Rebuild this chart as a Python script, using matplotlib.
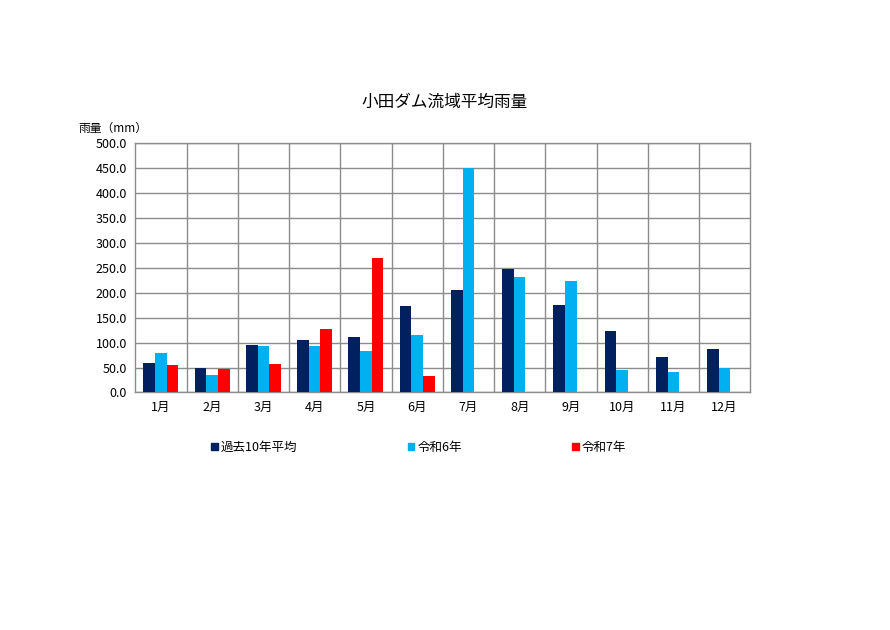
import matplotlib.pyplot as plt
import numpy as np
from matplotlib.patches import Patch

plt.rcParams['font.family'] = ['Noto Sans CJK JP', 'DejaVu Sans']

months = ['1月', '2月', '3月', '4月', '5月', '6月', '7月', '8月', '9月', '10月', '11月', '12月']
avg10 = [60.0, 49.4, 96.1, 105.5, 111.5, 172.9, 206.3, 247.0, 174.9, 123.5, 71.4, 86.8]
r6 = [79.4, 35.4, 92.8, 93.5, 83.4, 116.2, 450.6, 231.6, 224.3, 45.4, 42.0, 50.0]
r7 = [55.4, 47.4, 58.0, 127.5, 269.7, 33.4, np.nan, np.nan, np.nan, np.nan, np.nan, np.nan]
series_names = ['過去10年平均', '令和6年', '令和7年']
yticks = np.arange(0, 501, 50)

navy = '#002060'
cyan = '#00B0F0'
red = '#FF0000'
grid_c = '#8c8c8c'

fig = plt.figure(figsize=(8.9, 6.3), dpi=100)
ax = fig.add_axes([0.152, 0.377, 0.691, 0.396])

x = np.arange(len(months))
w = 0.228
ax.bar(x - w, avg10, w, color=navy, zorder=3)
ax.bar(x, r6, w, color=cyan, zorder=3)
ax.bar(x + w, r7, w, color=red, zorder=3)

ax.set_xlim(-0.5, len(months) - 0.5)
ax.set_ylim(0, 500)
ax.set_yticks(yticks)
ax.set_yticklabels([f'{v:.1f}' for v in yticks], fontsize=9)
ax.set_xticks(x)
ax.set_xticklabels(months, fontsize=9)
ax.tick_params(length=0, pad=6)

# grid lines: horizontal every 50, vertical between months
for v in yticks:
    ax.axhline(v, color=grid_c, lw=1.0, zorder=1)
for b in np.arange(0.5, len(months) - 0.5, 1):
    ax.axvline(b, color=grid_c, lw=1.0, zorder=1)
for s in ax.spines.values():
    s.set_color(grid_c)
    s.set_linewidth(1.0)

fig.text(0.5, 0.838, '小田ダム流域平均雨量', ha='center', va='center', fontsize=12)
fig.text(0.088, 0.796, '雨量（mm）', ha='left', va='center', fontsize=8.5)

handles = [Patch(color=navy), Patch(color=cyan), Patch(color=red)]
fig.legend(handles, series_names, loc='center left', bbox_to_anchor=(0.2245, 0.29),
           ncol=3, frameon=False, fontsize=9, handlelength=0.55, handleheight=0.55,
           handletextpad=0.25, columnspacing=8.8)

plt.savefig('out.png', dpi=100)
